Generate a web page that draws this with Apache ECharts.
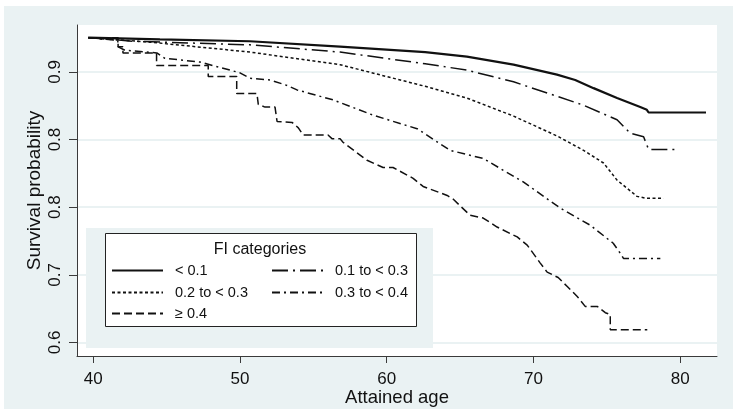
<!DOCTYPE html>
<html>
<head>
<meta charset="utf-8">
<script src="https://cdn.jsdelivr.net/npm/echarts@6/dist/echarts.min.js"></script>
<style>
  html, body { margin: 0; padding: 0; background: #fff; }
  #main { width: 733px; height: 409px; }
</style>
</head>
<body>
<div id="main"></div>
<script>
// survival curves: [attained age, survival probability]
const lt01 = [[39.66,0.938],[44.55,0.936],[50.68,0.934],[56.82,0.928],[62.62,0.922],[65.46,0.917],[68.64,0.908],[71.60,0.897],[72.84,0.891],[74.09,0.882],[75.69,0.871],[77.27,0.861],[77.72,0.858],[77.84,0.855],[81.75,0.855]]
const fi01to03 = [[39.66,0.938],[42.71,0.934],[50.68,0.930],[56.82,0.922],[62.62,0.909],[65.46,0.902],[68.64,0.889],[71.60,0.873],[73.41,0.863],[75.69,0.847],[76.59,0.832],[77.50,0.828],[77.84,0.814],[79.71,0.814]]
const fi02to03 = [[39.66,0.938],[43.87,0.933],[50.68,0.922],[56.82,0.908],[62.62,0.884],[65.46,0.871],[68.64,0.851],[71.60,0.829],[73.41,0.813],[74.77,0.799],[75.69,0.780],[77.05,0.762],[77.62,0.760],[78.86,0.760]]
const fi03to04 = [[39.66,0.938],[41.68,0.935],[41.68,0.928],[42.16,0.924],[44.34,0.921],[44.89,0.915],[47.27,0.911],[48.16,0.907],[50.00,0.899],[50.68,0.893],[52.05,0.891],[53.21,0.885],[53.89,0.880],[56.34,0.869],[59.07,0.852],[62.07,0.837],[64.32,0.813],[66.57,0.804],[69.30,0.778],[71.82,0.749],[73.87,0.730],[75.43,0.710],[75.91,0.699],[76.14,0.693],[78.64,0.693]]
const ge04 = [[39.66,0.938],[41.70,0.938],[41.70,0.928],[42.03,0.928],[42.03,0.921],[44.32,0.921],[44.32,0.907],[47.84,0.907],[47.84,0.895],[49.78,0.895],[49.78,0.876],[51.16,0.876],[51.25,0.864],[51.71,0.861],[52.39,0.861],[52.53,0.845],[53.55,0.844],[53.98,0.838],[54.30,0.830],[56.00,0.830],[56.27,0.826],[56.82,0.826],[57.02,0.822],[58.66,0.802],[59.75,0.794],[60.43,0.794],[61.80,0.782],[62.48,0.773],[64.12,0.763],[64.52,0.759],[65.68,0.741],[66.57,0.738],[67.52,0.728],[68.89,0.717],[69.57,0.708],[70.46,0.688],[70.93,0.678],[71.68,0.672],[72.30,0.662],[72.98,0.651],[73.52,0.640],[74.34,0.640],[74.89,0.633],[75.23,0.631],[75.23,0.614],[77.75,0.614]]

const names = ['< 0.1', '0.1 to < 0.3', '0.2 to < 0.3', '0.3 to < 0.4', '≥ 0.4']
const ageTicks = [40, 50, 60, 70, 80]
const probTicks = [0.6, 0.675, 0.75, 0.825, 0.9]

const myChart = echarts.init(document.getElementById('main'))

const bg = '#eaf2f3'
const axisCol = '#3a3a3a'

function line(name, data, width, dash) {
  return {
    name: name,
    type: 'line',
    data: data,
    symbol: 'none',
    itemStyle: { color: '#111' },
    lineStyle: { color: '#111', width: width, type: dash },
    emphasis: { disabled: true },
  }
}

// one legend per entry so the two-column layout can be placed by hand
function leg(name, left, top) {
  return {
    data: [name],
    left: left,
    top: top,
    padding: 0,
    itemWidth: 51,
    itemHeight: 12,
    selectedMode: false,
    itemStyle: { opacity: 0 },
    textStyle: { fontSize: 14.5, color: '#111', fontFamily: 'Liberation Sans', padding: [0, 0, 0, 7] },
  }
}

var option = {
  animation: false,
  backgroundColor: '#fff',
  textStyle: { fontFamily: 'Liberation Sans' },
  grid: {
    left: 77, right: 16, top: 25, bottom: 53,
    show: true, backgroundColor: '#fff', borderWidth: 0,
    outerBoundsMode: 'none',
  },
  xAxis: {
    type: 'value',
    min: 38.9,
    max: 82.5,
    name: 'Attained age',
    nameLocation: 'middle',
    nameGap: 32,
    nameMoveOverlap: false,
    nameTextStyle: { fontSize: 18.5, color: '#111' },
    axisLine: { show: true, onZero: false, lineStyle: { color: axisCol, width: 1 } },
    axisTick: { show: true, length: 7, customValues: ageTicks, lineStyle: { color: axisCol } },
    axisLabel: { customValues: ageTicks, fontSize: 17, color: '#111', margin: 15 },
    splitLine: { show: false },
  },
  yAxis: {
    type: 'value',
    min: 0.585,
    max: 0.952,
    name: 'Survival probability',
    nameLocation: 'middle',
    nameGap: 33,
    nameMoveOverlap: false,
    nameTextStyle: { fontSize: 19, color: '#111' },
    axisLine: { show: true, lineStyle: { color: axisCol, width: 1 } },
    axisTick: { show: true, length: 8, customValues: probTicks, lineStyle: { color: axisCol } },
    axisLabel: {
      customValues: probTicks,
      rotate: 90,
      fontSize: 17,
      color: '#111',
      margin: 13,
      formatter: (v) => v.toFixed(1),
    },
    splitLine: { show: true, lineStyle: { color: bg, width: 2 } },
  },
  legend: [
    leg(names[0], 111, 263),
    leg(names[1], 271, 263),
    leg(names[2], 111, 285),
    leg(names[3], 271, 285),
    leg(names[4], 111, 306),
  ],
  graphic: [
    { type: 'rect', z: -100, silent: true, shape: { x: 4, y: 6, width: 729, height: 403 }, style: { fill: bg } },
    { type: 'rect', z: 3, silent: true, shape: { x: 86, y: 228, width: 347, height: 120 }, style: { fill: bg } },
    { type: 'rect', z: 3, silent: true, shape: { x: 105.5, y: 233.5, width: 311, height: 93 }, style: { fill: '#fff', stroke: '#222', lineWidth: 1 } },
    { type: 'text', z: 5, silent: true, x: 260, y: 250, style: { text: 'FI categories', fontSize: 16, fontFamily: 'Liberation Sans', fill: '#111', align: 'center', verticalAlign: 'middle' } },
  ],
  series: [
    line(names[0], lt01, 2.2, 'solid'),
    line(names[1], fi01to03, 1.5, [16, 5, 2, 5]),
    line(names[2], fi02to03, 1.5, [3, 2.5]),
    line(names[3], fi03to04, 1.5, [8, 4, 2, 4]),
    line(names[4], ge04, 1.5, [8, 4]),
  ],
}

myChart.setOption(option)
</script>
</body>
</html>
